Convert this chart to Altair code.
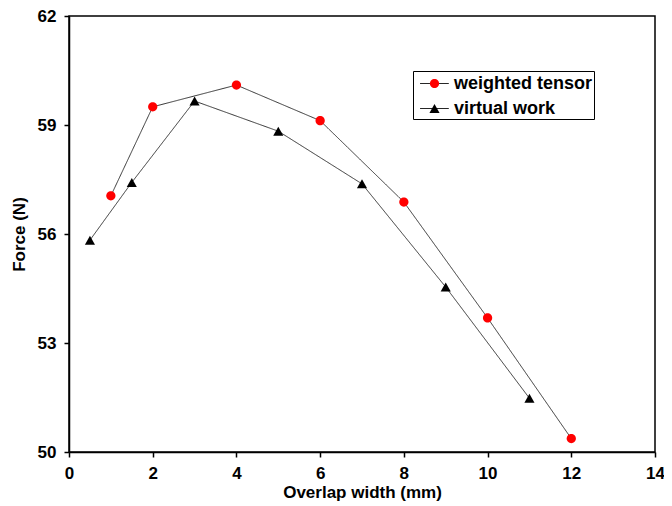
import altair as alt
import pandas as pd

series_names = ["weighted tensor", "virtual work"]
wt_x = [1, 2, 4, 6, 8, 10, 12]
wt_y = [57.05, 59.5, 60.1, 59.12, 56.88, 53.69, 50.37]
vw_x = [0.5, 1.5, 3, 5, 7, 9, 11]
vw_y = [55.83, 57.42, 59.66, 58.83, 57.38, 54.54, 51.48]
x_ticks = [0, 2, 4, 6, 8, 10, 12, 14]
y_ticks = [50, 53, 56, 59, 62]

rows = []
for x, y in zip(wt_x, wt_y):
    rows.append({"x": x, "y": y, "series": series_names[0], "line": series_names[0]})
for x, y in zip(vw_x, vw_y):
    rows.append({"x": x, "y": y, "series": series_names[1], "line": series_names[1]})
df = pd.DataFrame(rows)

FONT = "Liberation Sans"

# symbol paths in unit space (scaled by sqrt(size)/2)
CIRCLE = "M-0.42,0A0.42,0.42,0,1,0,0.42,0A0.42,0.42,0,1,0,-0.42,0Z"
TRIANGLE = "M0,-0.41L0.46,0.41L-0.46,0.41Z"
LINE = "M-1.3,0H1.3"
SYM_SIZE = 484

xenc = alt.X("x:Q", scale=alt.Scale(domain=[0, 14], nice=False),
             axis=alt.Axis(values=x_ticks, title="Overlap width (mm)", labelPadding=8,
                           titlePadding=3, labelFlush=False))
yenc = alt.Y("y:Q", scale=alt.Scale(domain=[50, 62], nice=False, zero=False),
             axis=alt.Axis(values=y_ticks, title="Force (N)", labelPadding=8,
                           titlePadding=9, labelFlush=False))

lines = alt.Chart(df).mark_line(color="#333333", strokeWidth=1).encode(
    x=xenc, y=yenc,
    detail="series:N",
    strokeDash=alt.StrokeDash(
        "line:N", sort=series_names,
        scale=alt.Scale(range=[[1, 0], [1, 0]]),
        legend=alt.Legend(
            title=None, orient="none", legendX=344, legendY=55,
            symbolType=LINE, symbolSize=SYM_SIZE, symbolStrokeColor="black",
            symbolStrokeWidth=1, symbolOffset=9, labelFont=FONT, labelFontSize=18,
            labelFontWeight="bold", labelColor="black", labelOffset=8,
            padding=1, rowPadding=4, strokeColor="black", fillColor="white",
            zindex=1,
        ),
    ),
)

marker_legend = alt.Legend(
    title=None, orient="none", legendX=344, legendY=55,
    symbolSize=SYM_SIZE, symbolStrokeWidth=1, symbolStrokeColor="transparent",
    symbolOffset=9, labelFont=FONT, labelFontSize=18,
    labelFontWeight="bold", labelExpr="''", labelOffset=8,
    padding=1, rowPadding=4, zindex=2,
)

points = alt.Chart(df).mark_point(filled=True, size=SYM_SIZE, opacity=1, strokeWidth=0).encode(
    x=xenc, y=yenc,
    color=alt.Color("series:N", scale=alt.Scale(domain=series_names, range=["#ff0000", "#000000"]),
                    legend=marker_legend),
    shape=alt.Shape("series:N", scale=alt.Scale(domain=series_names, range=[CIRCLE, TRIANGLE]),
                    legend=marker_legend),
)

chart = alt.layer(lines, points).properties(
    width=586, height=436,
    background="white",
    autosize=alt.AutoSizeParams(type="none"),
    padding={"left": 61, "top": 8, "right": 9, "bottom": 58},
).configure_view(
    stroke="black", strokeWidth=1.5
).configure_axis(
    grid=False, domainColor="black", domainWidth=1.5, tickColor="black", tickWidth=1.5,
    tickSize=5, labelFont=FONT, labelFontSize=17, labelFontWeight="bold", labelColor="black",
    titleFont=FONT, titleFontSize=17, titleFontWeight="bold", titleColor="black",
)

chart.save("out.html", embed_options={"renderer": "svg", "actions": False})
